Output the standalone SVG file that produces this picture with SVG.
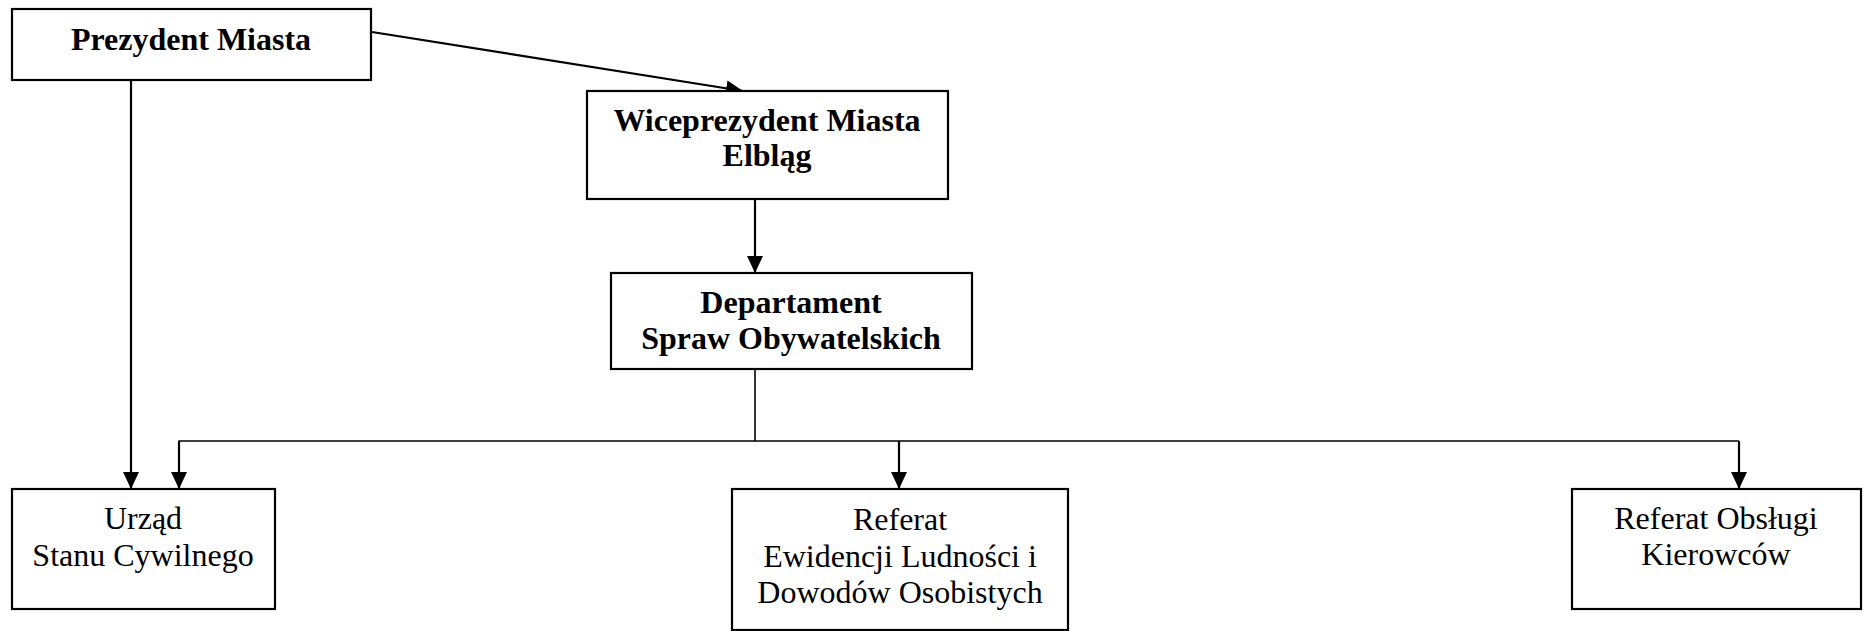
<svg xmlns="http://www.w3.org/2000/svg" width="1870" height="631" viewBox="0 0 1870 631">
<style>
.box{fill:#fff;stroke:#000;stroke-width:2.2}
.b{font-family:"Liberation Serif","Times New Roman",serif;font-weight:bold;font-size:32px;text-anchor:middle;fill:#000}
.r{font-family:"Liberation Serif","Times New Roman",serif;font-size:32px;text-anchor:middle;fill:#000}
.c{fill:none;stroke:#000;stroke-width:2.2}
.t{fill:none;stroke:#000;stroke-width:1.6}
</style>
<defs>
<marker id="arr" markerUnits="userSpaceOnUse" markerWidth="17" markerHeight="16" refX="17" refY="8" orient="auto">
<path d="M0,0 L17,8 L0,16 z" fill="#000"/>
</marker>
</defs>
<rect width="1870" height="631" fill="#fff"/>
<g id="connectors">
<line class="c" x1="372" y1="32" x2="743" y2="91" marker-end="url(#arr)"/>
<line class="c" x1="131" y1="80" x2="131" y2="489" marker-end="url(#arr)"/>
<line class="c" x1="755" y1="199" x2="755" y2="273" marker-end="url(#arr)"/>
<line class="t" x1="755" y1="369" x2="755" y2="441"/>
<polyline class="t" points="179,489 179,441 1739,441"/>
<line class="c" x1="179" y1="442" x2="179" y2="489" marker-end="url(#arr)"/>
<line class="c" x1="899" y1="441" x2="899" y2="489" marker-end="url(#arr)"/>
<line class="c" x1="1739" y1="441" x2="1739" y2="489" marker-end="url(#arr)"/>
</g>
<g id="prezydent">
<rect class="box" x="12" y="9" width="359" height="71"/>
<text class="b" x="191" y="50">Prezydent Miasta</text>
</g>
<g id="wiceprezydent">
<rect class="box" x="587" y="91" width="361" height="108"/>
<text class="b" x="767" y="131">Wiceprezydent Miasta</text>
<text class="b" x="767" y="166">Elbląg</text>
</g>
<g id="departament">
<rect class="box" x="611" y="273" width="361" height="96"/>
<text class="b" x="791" y="313">Departament</text>
<text class="b" x="791" y="349">Spraw Obywatelskich</text>
</g>
<g id="usc">
<rect class="box" x="12" y="489" width="263" height="120"/>
<text class="r" x="143" y="529">Urząd</text>
<text class="r" x="143" y="566">Stanu Cywilnego</text>
</g>
<g id="ewidencja">
<rect class="box" x="732" y="489" width="336" height="141"/>
<text class="r" x="900" y="530">Referat</text>
<text class="r" x="900" y="567">Ewidencji Ludności i</text>
<text class="r" x="900" y="603">Dowodów Osobistych</text>
</g>
<g id="kierowcy">
<rect class="box" x="1572" y="489" width="289" height="120"/>
<text class="r" x="1716" y="529">Referat Obsługi</text>
<text class="r" x="1716" y="565">Kierowców</text>
</g>
</svg>
